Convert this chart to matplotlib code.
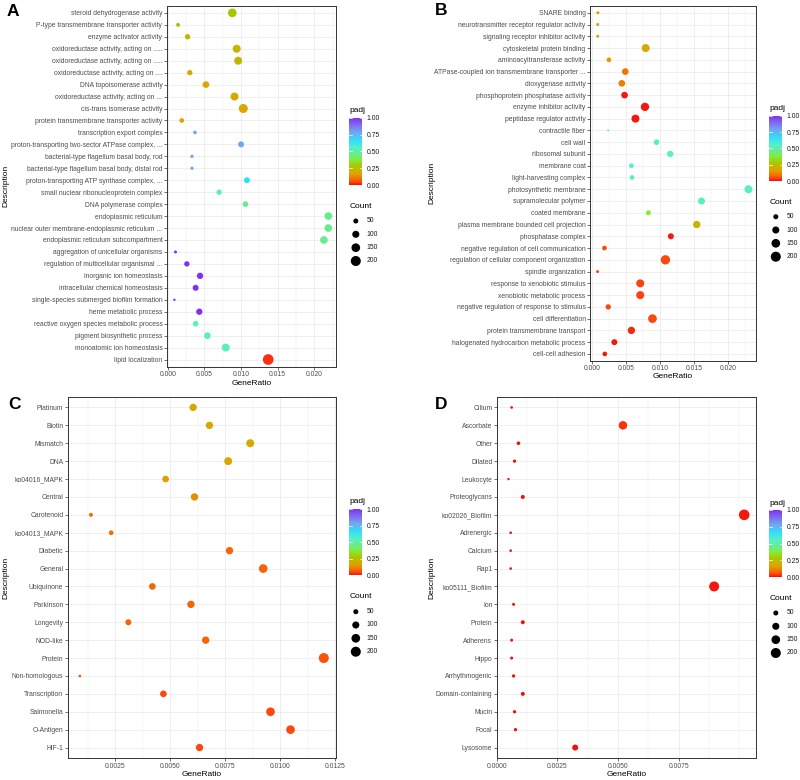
import numpy as np
import matplotlib
matplotlib.use("Agg")
import matplotlib.pyplot as plt
from matplotlib.colors import LinearSegmentedColormap, Normalize
from matplotlib.cm import ScalarMappable

plt.rcParams["font.family"] = ["Liberation Sans", "DejaVu Sans"]

W, H = 800, 780

# ---- panel A: GO terms ----
A_TERMS = [
    "steroid dehydrogenase activity",
    "P-type transmembrane transporter activity",
    "enzyme activator activity",
    "oxidoreductase activity, acting on .....",
    "oxidoreductase activity, acting on .....",
    "oxidoreductase activity, acting on ....",
    "DNA topoisomerase activity",
    "oxidoreductase activity, acting on ...",
    "cis-trans isomerase activity",
    "protein transmembrane transporter activity",
    "transcription export complex",
    "proton-transporting two-sector ATPase complex, ...",
    "bacterial-type flagellum basal body, rod",
    "bacterial-type flagellum basal body, distal rod",
    "proton-transporting ATP synthase complex, ...",
    "small nuclear ribonucleoprotein complex",
    "DNA polymerase complex",
    "endoplasmic reticulum",
    "nuclear outer membrane-endoplasmic reticulum ...",
    "endoplasmic reticulum subcompartment",
    "aggregation of unicellular organisms",
    "regulation of multicellular organismal ...",
    "inorganic ion homeostasis",
    "intracellular chemical homeostasis",
    "single-species submerged biofilm formation",
    "heme metabolic process",
    "reactive oxygen species metabolic process",
    "pigment biosynthetic process",
    "monoatomic ion homeostasis",
    "lipid localization",
]
A_RATIO = [0.0088, 0.0014, 0.0027, 0.0094, 0.0096, 0.0030, 0.0052, 0.0091, 0.0103, 0.0019,
           0.0037, 0.0100, 0.0033, 0.0033, 0.0108, 0.0070, 0.0106, 0.0219, 0.0219, 0.0213,
           0.00105, 0.0026, 0.0044, 0.0038, 0.0009, 0.0043, 0.0038, 0.0054, 0.0079, 0.0137]
A_COUNT = [150, 32, 57, 128, 128, 57, 89, 128, 162, 44,
           27, 72, 22, 22, 72, 57, 64, 117, 117, 117,
           18, 57, 80, 72, 11, 80, 64, 89, 128, 228]
A_PADJ = [0.28, 0.28, 0.23, 0.23, 0.23, 0.18, 0.18, 0.18, 0.18, 0.18,
          0.78, 0.78, 0.78, 0.78, 0.66, 0.55, 0.46, 0.46, 0.46, 0.46,
          1.0, 1.0, 1.0, 1.0, 1.0, 1.0, 0.55, 0.55, 0.55, 0.03]
A_TICKS = [0.0, 0.005, 0.010, 0.015, 0.020]

# ---- panel B: GO terms ----
B_TERMS = [
    "SNARE binding",
    "neurotransmitter receptor regulator activity",
    "signaling receptor inhibitor activity",
    "cytoskeletal protein binding",
    "aminoacyltransferase activity",
    "ATPase-coupled ion transmembrane transporter ...",
    "dioxygenase activity",
    "phosphoprotein phosphatase activity",
    "enzyme inhibitor activity",
    "peptidase regulator activity",
    "contractile fiber",
    "cell wall",
    "ribosomal subunit",
    "membrane coat",
    "light-harvesting complex",
    "photosynthetic membrane",
    "supramolecular polymer",
    "coated membrane",
    "plasma membrane bounded cell projection",
    "phosphatase complex",
    "negative regulation of cell communication",
    "regulation of cellular component organization",
    "spindle organization",
    "response to xenobiotic stimulus",
    "xenobiotic metabolic process",
    "negative regulation of response to stimulus",
    "cell differentiation",
    "protein transmembrane transport",
    "halogenated hydrocarbon metabolic process",
    "cell-cell adhesion",
]
B_RATIO = [0.00088, 0.00085, 0.00085, 0.0079, 0.0025, 0.0049, 0.0044, 0.0048, 0.0078, 0.0064,
           0.0024, 0.0095, 0.0115, 0.0058, 0.0059, 0.0230, 0.0161, 0.0083, 0.0154, 0.0116,
           0.00185, 0.0108, 0.00083, 0.0071, 0.0071, 0.0024, 0.0089, 0.0058, 0.0033, 0.0019]
B_COUNT = [18, 18, 18, 128, 44, 89, 89, 89, 139, 128,
           8, 64, 80, 44, 44, 128, 98, 50, 108, 72,
           44, 174, 18, 128, 128, 57, 150, 108, 72, 44]
B_PADJ = [0.16, 0.16, 0.16, 0.18, 0.15, 0.10, 0.11, 0.01, 0.01, 0.01,
          0.55, 0.55, 0.55, 0.55, 0.55, 0.55, 0.55, 0.38, 0.22, 0.01,
          0.05, 0.05, 0.05, 0.04, 0.04, 0.05, 0.05, 0.02, 0.01, 0.01]
B_TICKS = [0.0, 0.005, 0.010, 0.015, 0.020]

# ---- panel C: KEGG pathways ----
C_TERMS = ["Platinum", "Biotin", "Mismatch", "DNA", "ko04016_MAPK", "Central", "Carotenoid",
           "ko04013_MAPK", "Diabetic", "General", "Ubiquinone", "Parkinson", "Longevity",
           "NOD-like", "Protein", "Non-homologous", "Transcription", "Salmonella",
           "O-Antigen", "HIF-1"]
C_RATIO = [0.00604, 0.00678, 0.00863, 0.00763, 0.00479, 0.0061, 0.0014, 0.00232, 0.00769, 0.00922,
           0.00419, 0.00594, 0.0031, 0.00661, 0.01197, 0.0009, 0.00469, 0.00955, 0.01046, 0.00633]
C_COUNT = [108, 108, 128, 128, 89, 108, 32, 44, 108, 150,
           89, 108, 72, 108, 200, 14, 89, 150, 150, 108]
C_PADJ = [0.19, 0.19, 0.19, 0.19, 0.16, 0.13, 0.09, 0.09, 0.08, 0.08,
          0.08, 0.08, 0.08, 0.08, 0.06, 0.06, 0.05, 0.05, 0.05, 0.05]
C_TICKS = [0.0025, 0.0050, 0.0075, 0.0100, 0.0125]

# ---- panel D: KEGG pathways ----
D_TERMS = ["Cilium", "Ascorbate", "Other", "Dilated", "Leukocyte", "Proteoglycans",
           "ko02026_Biofilm", "Adrenergic", "Calcium", "Rap1", "ko05111_Biofilm", "Ion",
           "Protein", "Adherens", "Hippo", "Arrhythmogenic", "Domain-containing", "Mucin",
           "Focal", "Lysosome"]
D_RATIO = [0.00061, 0.0052, 0.00089, 0.00073, 0.00048, 0.00107, 0.0102, 0.00057, 0.00057, 0.00057,
           0.00896, 0.00069, 0.00107, 0.00061, 0.00061, 0.00069, 0.00107, 0.00073, 0.00077, 0.00323]
D_COUNT = [14, 145, 27, 22, 11, 32, 225, 14, 14, 14,
           200, 18, 32, 18, 18, 22, 32, 22, 22, 72]
D_PADJ = [0.0, 0.03, 0.0, 0.0, 0.0, 0.0, 0.01, 0.0, 0.0, 0.0,
          0.01, 0.0, 0.0, 0.0, 0.0, 0.0, 0.0, 0.0, 0.0, 0.0]
D_TICKS = [0.0, 0.0025, 0.0050, 0.0075]

LEGEND_COUNTS = [50, 100, 150, 200]
PADJ_BREAKS = [0.0, 0.25, 0.50, 0.75, 1.0]

# colour scale for padj
CMAP = LinearSegmentedColormap.from_list("padj", [
    (0.00, "#F01010"), (0.04, "#FF4010"), (0.10, "#F07800"), (0.16, "#E0A000"),
    (0.22, "#C8B400"), (0.28, "#A8C800"), (0.38, "#80EE40"), (0.46, "#66EC90"),
    (0.55, "#58F0C4"), (0.66, "#30E0F8"), (0.78, "#70A8F0"), (0.90, "#8068F0"),
    (1.00, "#7F30F0"),
])
NORM = Normalize(0, 1)
SIZE_K = 0.26          # scatter area (pt^2) per gene count
TICK_FS = 4.85
TITLE_FS = 6.0


def fig_rect(x0, y0, x1, y1):
    """Pixel box (top-left origin) -> figure fraction rect."""
    return [x0 / W, 1 - y1 / H, (x1 - x0) / W, (y1 - y0) / H]


def draw_panel(fig, box, terms, ratio, count, padj, ticks, fmt):
    ax = fig.add_axes(fig_rect(*box))
    y = np.arange(len(terms))
    ax.scatter(ratio, y, s=np.asarray(count) * SIZE_K, c=padj, cmap=CMAP, norm=NORM,
               edgecolors="none", zorder=3, clip_on=False)
    lo, hi = min(ratio), max(ratio)
    pad = 0.05 * (hi - lo)
    ax.set_xlim(lo - pad, hi + pad)
    ax.set_ylim(len(terms) - 1 + 0.6, -0.6)

    ax.set_yticks(y)
    ax.set_yticklabels(terms)
    ax.set_xticks(ticks)
    ax.set_xticklabels([fmt.format(t) for t in ticks])
    step = ticks[1] - ticks[0]
    minor = np.arange(ticks[0] - step / 2, hi + pad, step / 2)
    minor = minor[(minor > lo - pad) & (minor < hi + pad)]
    ax.set_xticks(minor, minor=True)

    ax.grid(which="major", color="#EBEBEB", lw=0.55, zorder=0)
    ax.grid(which="minor", axis="x", color="#EBEBEB", lw=0.3, zorder=0)
    ax.set_axisbelow(True)
    ax.tick_params(which="major", length=2, width=0.5, color="#333333",
                   labelsize=TICK_FS, labelcolor="#4D4D4D", pad=1.2)
    ax.tick_params(which="minor", length=0)
    for sp in ax.spines.values():
        sp.set_color("#333333")
        sp.set_linewidth(0.7)
    return ax


def draw_legend(fig, lax, bar, padj_y, count_y, dot_ys):
    bx0, by0, bx1, by1 = bar
    fig.text(bx0 / W, 1 - padj_y / H, "padj", fontsize=TITLE_FS, va="center", ha="left")
    cax = fig.add_axes(fig_rect(bx0, by0, bx1, by1))
    cb = fig.colorbar(ScalarMappable(norm=NORM, cmap=CMAP), cax=cax, ticks=PADJ_BREAKS)
    cb.outline.set_visible(False)
    cb.ax.set_yticklabels([f"{t:.2f}" for t in PADJ_BREAKS])
    cb.ax.tick_params(length=0, labelsize=TICK_FS, pad=3, labelcolor="#1A1A1A")
    for t in PADJ_BREAKS:
        cax.plot([0, 0.2], [t, t], color="white", lw=0.5)
        cax.plot([0.8, 1], [t, t], color="white", lw=0.5)
    cax.set_xlim(0, 1)

    fig.text(bx0 / W, 1 - count_y / H, "Count", fontsize=TITLE_FS, va="center", ha="left")
    dx = (bx0 + bx1) / 2
    lax.scatter([dx] * len(LEGEND_COUNTS), dot_ys, s=np.asarray(LEGEND_COUNTS) * SIZE_K,
                color="black", edgecolors="none")
    for c, yy in zip(LEGEND_COUNTS, dot_ys):
        lax.text(bx1 + 4.4, yy, str(c), fontsize=TICK_FS, va="center", ha="left",
                 color="#1A1A1A")


fig = plt.figure(figsize=(W / 100, H / 100), dpi=100)
lax = fig.add_axes([0, 0, 1, 1])
lax.set_xlim(0, W)
lax.set_ylim(H, 0)
lax.axis("off")

panels = [
    ("A", (7, 11.5), (166.7, 5.7, 336, 366.7), A_TERMS, A_RATIO, A_COUNT, A_PADJ, A_TICKS, "{:.3f}",
     (349.3, 117.7, 362.3, 185), 110.7, 206, [221, 234.3, 247.7, 261], 383.3),
    ("B", (435, 10.5), (590, 5.7, 756, 361), B_TERMS, B_RATIO, B_COUNT, B_PADJ, B_TICKS, "{:.3f}",
     (769.3, 115.7, 782.3, 181), 108.3, 202.7, [216.7, 230, 243.3, 256.7], 376.7),
    ("C", (8, 404.7), (67.7, 396.7, 336, 758.3), C_TERMS, C_RATIO, C_COUNT, C_PADJ, C_TICKS, "{:.4f}",
     (349.3, 509, 362.3, 575.3), 501, 597, [611.7, 625, 638.3, 651.7], 774.3),
    ("D", (435, 404.7), (496.7, 396.7, 756, 758.3), D_TERMS, D_RATIO, D_COUNT, D_PADJ, D_TICKS, "{:.4f}",
     (769.3, 510, 782.3, 577), 503, 598, [613, 626.3, 639.7, 653], 774.3),
]

for (letter, lxy, box, terms, ratio, count, padj, ticks, fmt,
     bar, padj_y, count_y, dot_ys, xlab_y) in panels:
    ax = draw_panel(fig, box, terms, ratio, count, padj, ticks, fmt)
    fig.text(lxy[0] / W, 1 - lxy[1] / H, letter, fontsize=12.5, fontweight="bold",
             va="center", ha="left")
    cx = (box[0] + box[2]) / 2
    cy = (box[1] + box[3]) / 2
    fig.text(cx / W, 1 - xlab_y / H, "GeneRatio", fontsize=TITLE_FS, ha="center", va="center")
    ylab_x = 6 if box[0] < 400 else 431.5
    fig.text(ylab_x / W, 1 - cy / H, "Description", fontsize=TITLE_FS, rotation=90,
             ha="center", va="center")
    draw_legend(fig, lax, bar, padj_y, count_y, dot_ys)

fig.savefig("out.png", dpi=100)
